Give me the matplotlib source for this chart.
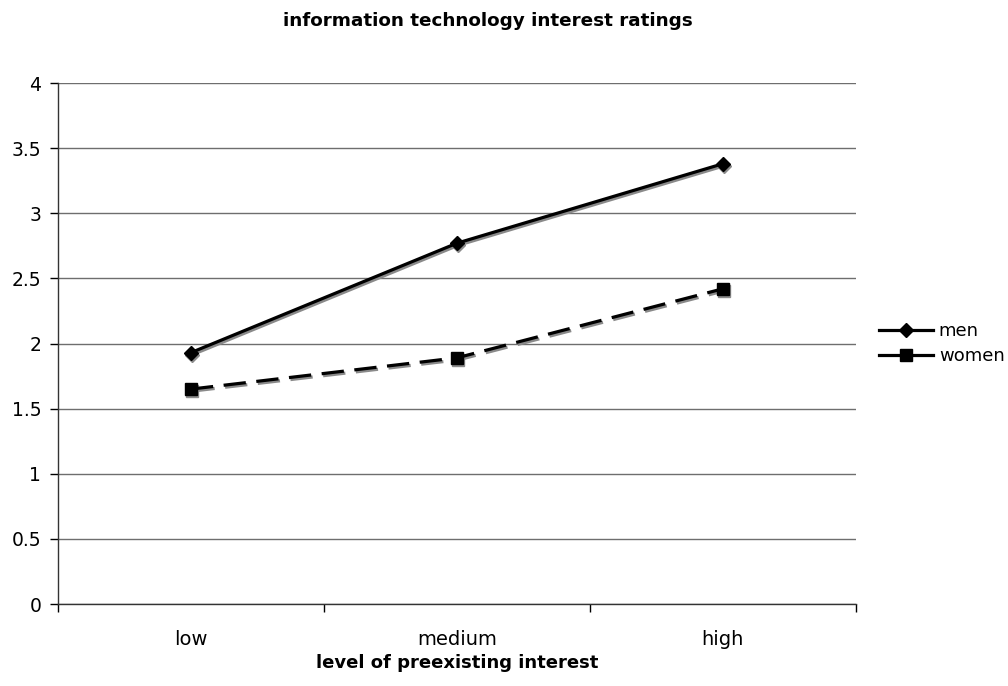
import numpy as np
import matplotlib
matplotlib.use("Agg")
import matplotlib.pyplot as plt
from matplotlib.transforms import offset_copy

# --- data ---
categories = ["low", "medium", "high"]
men = [1.93, 2.77, 3.38]
women = [1.65, 1.89, 2.42]

plt.rcParams['font.family'] = ['DejaVu Sans']

fig = plt.figure(figsize=(10.08, 6.86), dpi=100)
ax = fig.add_axes([0.0575, 0.1195, 0.7915, 0.7595])

x = np.arange(len(categories))
# excel style drop shadow: gray copy shifted right/down by a couple of pixels
shadow_tr = offset_copy(ax.transData, fig=fig, x=1.5, y=-2.0, units='dots')

ax.plot(x, men, color='#8a8a8a', lw=2.3, marker='D', markersize=7,
        transform=shadow_tr, zorder=2)
ax.plot(x, women, color='#8a8a8a', lw=2.3, marker='s', markersize=8,
        dashes=(7, 3.3), transform=shadow_tr, zorder=2)

ax.plot(x, men, color='black', lw=2.3, marker='D', markersize=7,
        label='men', zorder=3)
ax.plot(x, women, color='black', lw=2.3, marker='s', markersize=8,
        dashes=(7, 3.3), label='women', zorder=3)

ax.set_xlim(-0.5, 2.5)
ax.set_ylim(0, 4)
ax.set_yticks(np.arange(0, 4.01, 0.5))
ax.set_yticklabels(['0', '0.5', '1', '1.5', '2', '2.5', '3', '3.5', '4'])
ax.yaxis.grid(True, color='#6e6e6e', lw=1)
ax.set_axisbelow(True)

ax.set_xticks(x)
ax.set_xticklabels(categories)
ax.set_xticks([-0.5, 0.5, 1.5, 2.5], minor=True)
ax.tick_params(axis='x', which='major', length=0, pad=19, labelsize=14)
ax.tick_params(axis='x', which='minor', length=6, width=1, direction='out')
ax.tick_params(axis='y', length=6, width=1, direction='out', pad=6, labelsize=13.5)

for s in ['top', 'right']:
    ax.spines[s].set_visible(False)
for s in ['left', 'bottom']:
    ax.spines[s].set_color('#333333')
    ax.spines[s].set_linewidth(1)

# axis title and chart title placed in figure coordinates
ax_cx = 0.0575 + 0.7915 / 2
fig.text(ax_cx, 1 - 663 / 686, 'level of preexisting interest', fontsize=13,
         fontweight='bold', ha='center', va='center')
fig.text(0.484, 1 - 21 / 686, 'information technology interest ratings', fontsize=13.2,
         fontweight='bold', ha='center', va='center')

leg = ax.legend(loc='center left', bbox_to_anchor=(1.0, 0.5), frameon=False,
                fontsize=13, handlelength=3.0, handletextpad=0.3, labelspacing=0.4,
                borderaxespad=0.9)
for h in leg.legend_handles:
    h.set_linestyle('-')

fig.savefig('out.png', dpi=100)
